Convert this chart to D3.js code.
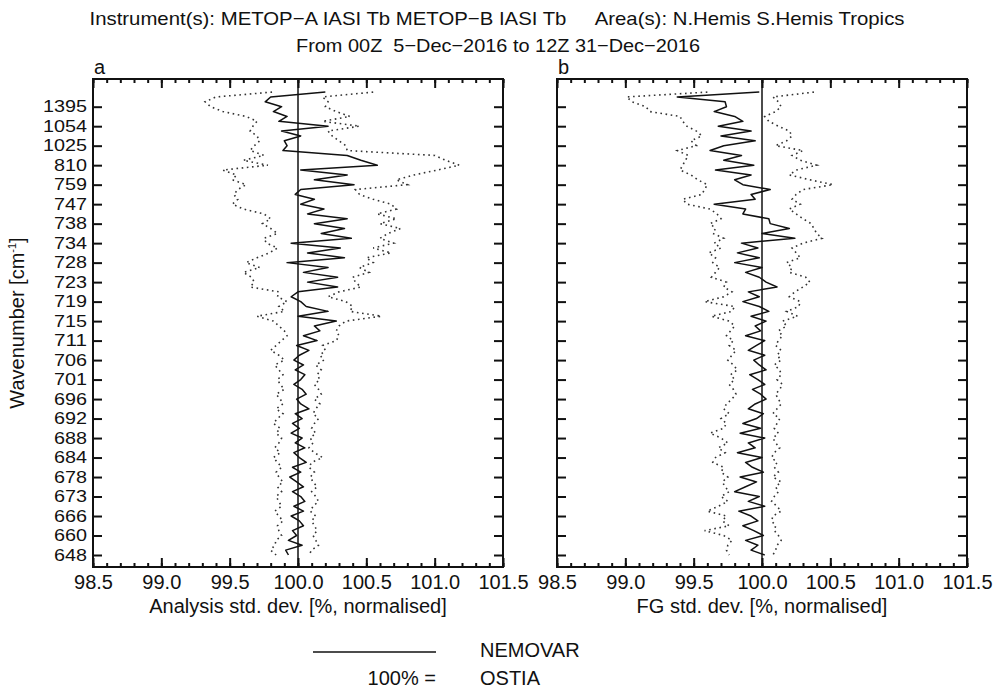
<!DOCTYPE html>
<html>
<head>
<meta charset="utf-8">
<script src="https://cdn.jsdelivr.net/npm/d3@7/dist/d3.min.js"></script>
<style>
  body { margin: 0; background: #fff; }
  text { font-family: "Liberation Sans", Arial, sans-serif; fill: #111; }
</style>
</head>
<body>
<svg id="chart" width="995" height="690"></svg>
<script>
// tick labels (wavenumber of every 4th channel, top to bottom)
const wavenumbers = [1395, 1054, 1025, 810, 759, 747, 738, 734, 728, 723, 719, 715,
  711, 706, 701, 696, 692, 688, 684, 678, 673, 666, 660, 648];

// panel a: analysis std. dev., channels top to bottom
const anaMean = [
  100.20, 99.80, 99.76, 99.88, 99.82, 99.92, 99.86, 100.22, 99.88, 100.02,
  99.90, 99.92, 99.89, 100.36, 100.46, 100.58, 100.02, 100.36, 100.12, 100.41,
  100.02, 99.98, 100.12, 100.02, 100.19, 100.07, 100.36, 100.12, 100.34, 100.17,
  100.39, 99.95, 100.31, 100.07, 100.34, 99.92, 100.22, 100.04, 100.29, 100.07,
  100.29, 100.00, 99.95, 100.02, 100.06, 100.22, 100.00, 100.28, 100.12, 100.16,
  100.04, 100.14, 99.99, 100.08, 100.01, 99.97, 100.04, 99.98, 100.05, 100.02,
  99.97, 100.03, 100.06, 99.99, 100.02, 100.08, 99.98, 100.03, 99.96, 100.01,
  99.95, 100.03, 99.98, 100.05, 99.97, 100.01, 100.06, 99.96, 100.02, 99.94,
  99.99, 100.04, 99.96, 100.02, 100.05, 99.97, 100.04, 99.95, 100.01, 100.04,
  99.96, 99.99, 99.93, 100.03, 99.91, 99.93
];
const anaLow = [
  99.81, 99.40, 99.32, 99.36, 99.45, 99.62, 99.70, 99.67, 99.65, 99.70,
  99.72, 99.68, 99.65, 99.75, 99.60, 99.78, 99.45, 99.55, 99.52, 99.62,
  99.56, 99.53, 99.56, 99.52, 99.60, 99.75, 99.80, 99.74, 99.80, 99.85,
  99.75, 99.77, 99.85, 99.79, 99.70, 99.62, 99.72, 99.60, 99.66, 99.68,
  99.65, 99.86, 99.85, 99.92, 99.86, 99.90, 99.70, 99.82, 99.86, 99.90,
  99.92, 99.88, 99.84, 99.80, 99.86, 99.90, 99.83, 99.86, 99.89, 99.85,
  99.87, 99.90, 99.84, 99.87, 99.89, 99.84, 99.89, 99.85, 99.82, 99.87,
  99.84, 99.88, 99.86, 99.83, 99.87, 99.82, 99.85, 99.88, 99.84, 99.86,
  99.89, 99.85, 99.88, 99.84, 99.86, 99.88, 99.83, 99.86, 99.89, 99.85,
  99.86, 99.88, 99.84, 99.83, 99.80, 99.84
];
const anaHigh = [
  100.55, 100.18, 100.22, 100.20, 100.28, 100.38, 100.18, 100.45, 100.22, 100.25,
  100.30, 100.35, 100.36, 101.00, 101.08, 101.18, 101.02, 100.85, 100.72, 100.80,
  100.42, 100.45, 100.55, 100.68, 100.72, 100.58, 100.72, 100.60, 100.75, 100.66,
  100.60, 100.70, 100.55, 100.68, 100.50, 100.55, 100.45, 100.52, 100.40, 100.42,
  100.46, 100.30, 100.22, 100.35, 100.40, 100.38, 100.61, 100.35, 100.30, 100.28,
  100.30, 100.28, 100.18, 100.20, 100.16, 100.19, 100.13, 100.17, 100.14, 100.16,
  100.12, 100.15, 100.17, 100.12, 100.16, 100.13, 100.11, 100.15, 100.12, 100.10,
  100.13, 100.09, 100.11, 100.08, 100.12, 100.18, 100.10, 100.08, 100.12, 100.09,
  100.11, 100.14, 100.10, 100.13, 100.15, 100.11, 100.09, 100.13, 100.10, 100.12,
  100.14, 100.11, 100.13, 100.15, 100.10, 100.08
];

// panel b: first-guess std. dev.
const fgMean = [
  99.98, 99.38, 99.73, 99.74, 99.65, 99.80, 99.86, 99.68, 99.92, 99.70,
  99.95, 99.72, 99.62, 99.85, 99.72, 99.94, 99.66, 99.92, 99.80, 99.86,
  100.06, 99.92, 99.95, 99.65, 99.88, 99.86, 100.05, 100.06, 100.20, 100.00,
  100.24, 99.85, 99.97, 99.82, 99.98, 99.80, 100.00, 99.88, 99.98, 100.03,
  100.11, 99.90, 99.98, 99.86, 99.98, 100.05, 99.92, 100.03, 99.95, 99.99,
  99.88, 100.02, 99.96, 99.90, 100.02, 99.94, 99.98, 100.03, 99.91, 99.97,
  100.02, 99.93, 99.99, 100.03, 99.95, 99.90, 100.01, 99.96, 99.86, 99.99,
  99.84, 100.02, 99.90, 99.95, 99.82, 100.00, 99.88, 99.93, 100.01, 99.84,
  99.96, 99.88, 99.80, 99.98, 99.90, 100.02, 99.83, 99.92, 99.97, 99.86,
  99.94, 100.01, 99.88, 99.97, 99.92, 100.02
];
const fgLow = [
  99.60, 99.01, 99.05, 99.15, 99.18, 99.40, 99.42, 99.45, 99.52, 99.56,
  99.48, 99.52, 99.38, 99.46, 99.44, 99.42, 99.40, 99.48, 99.53, 99.60,
  99.58, 99.56, 99.42, 99.45, 99.62, 99.67, 99.70, 99.62, 99.66, 99.64,
  99.72, 99.65, 99.70, 99.61, 99.66, 99.64, 99.69, 99.66, 99.63, 99.74,
  99.72, 99.78, 99.72, 99.58, 99.80, 99.78, 99.63, 99.76, 99.80, 99.77,
  99.74, 99.79, 99.76, 99.81, 99.78, 99.75, 99.79, 99.82, 99.77, 99.80,
  99.76, 99.79, 99.81, 99.78, 99.74, 99.72, 99.76, 99.70, 99.74, 99.72,
  99.62, 99.70, 99.75, 99.68, 99.73, 99.66, 99.64, 99.72, 99.70, 99.75,
  99.71, 99.73, 99.76, 99.70, 99.75, 99.68, 99.60, 99.74, 99.71, 99.76,
  99.58, 99.72, 99.78, 99.75, 99.74, 99.76
];
const fgHigh = [
  100.38, 100.08, 100.12, 100.14, 100.10, 100.02, 100.05, 100.12, 100.20, 100.22,
  100.18, 100.10, 100.30, 100.22, 100.28, 100.40, 100.25, 100.20, 100.35, 100.52,
  100.30, 100.25, 100.22, 100.28, 100.20, 100.25, 100.30, 100.36, 100.38, 100.40,
  100.44, 100.30, 100.22, 100.25, 100.28, 100.18, 100.22, 100.20, 100.32, 100.35,
  100.30, 100.24, 100.20, 100.28, 100.27, 100.18, 100.26, 100.15, 100.18, 100.12,
  100.15, 100.12, 100.10, 100.14, 100.11, 100.14, 100.09, 100.13, 100.14, 100.11,
  100.15, 100.13, 100.10, 100.12, 100.14, 100.11, 100.08, 100.13, 100.11, 100.09,
  100.12, 100.08, 100.10, 100.13, 100.09, 100.07, 100.11, 100.09, 100.12, 100.08,
  100.14, 100.10, 100.12, 100.09, 100.07, 100.11, 100.14, 100.08, 100.07, 100.10,
  100.09, 100.12, 100.14, 100.11, 100.10, 100.08
];

const xTicks = [98.5, 99.0, 99.5, 100.0, 100.5, 101.0, 101.5];

const svg = d3.select("#chart");
const frameTop = 79, frameBottom = 567;
const fontSize = 20;

// channel index -> pixel (channel 3 is the 1395 tick, channel 95 the 648 tick)
const y = d3.scaleLinear().domain([3, 95]).range([106.7, 555]);
const tickChannels = wavenumbers.map((_, i) => 3 + 4 * i);

svg.append("text")
  .attr("x", 497).attr("y", 25).attr("text-anchor", "middle")
  .attr("font-size", 18.5)
  .attr("textLength", 815).attr("lengthAdjust", "spacingAndGlyphs")
  .text("Instrument(s): METOP\u2212A IASI Tb METOP\u2212B IASI Tb \u00a0\u00a0\u00a0\u00a0Area(s): N.Hemis S.Hemis Tropics");
svg.append("text")
  .attr("x", 498).attr("y", 52).attr("text-anchor", "middle")
  .attr("font-size", 18.5)
  .attr("textLength", 404).attr("lengthAdjust", "spacingAndGlyphs")
  .text("From 00Z \u00a05\u2212Dec\u22122016 to 12Z 31\u2212Dec\u22122016");

function drawPanel(x0, x1, mean, low, high, label, xTitle, showY) {
  const x = d3.scaleLinear().domain([98.5, 101.5]).range([x0, x1]);
  const g = svg.append("g");

  const line = (arr) => d3.line()
    .x((d) => x(d))
    .y((d, i) => y(i))(arr);

  // 100 % reference line
  g.append("line")
    .attr("x1", x(100)).attr("x2", x(100))
    .attr("y1", frameTop).attr("y2", frameBottom)
    .attr("stroke", "#111").attr("stroke-width", 1.5);

  [low, high].forEach((arr) => {
    g.append("path").attr("d", line(arr))
      .attr("fill", "none").attr("stroke", "#333")
      .attr("stroke-width", 1.6).attr("stroke-dasharray", "1.6,3.6");
  });
  g.append("path").attr("d", line(mean))
    .attr("fill", "none").attr("stroke", "#111")
    .attr("stroke-width", 1.5).attr("stroke-linejoin", "round");

  // axes: ticks point inwards
  const axes = [
    { ax: d3.axisBottom(x).tickValues(xTicks).tickSize(-9).tickPadding(8)
        .tickFormat(d3.format(".1f")), at: [0, frameBottom] },
    { ax: d3.axisBottom(x).ticks(30).tickSize(-4).tickFormat(""), at: [0, frameBottom] },
    { ax: d3.axisTop(x).tickValues(xTicks).tickSize(-9).tickFormat(""), at: [0, frameTop] },
    { ax: d3.axisTop(x).ticks(30).tickSize(-4).tickFormat(""), at: [0, frameTop] },
    { ax: d3.axisLeft(y).tickValues(tickChannels).tickSize(-9).tickPadding(6)
        .tickFormat((d, i) => (showY ? wavenumbers[i] : "")), at: [x0, 0] },
    { ax: d3.axisRight(y).tickValues(tickChannels).tickSize(-9).tickFormat(""), at: [x1, 0] }
  ];
  axes.forEach(({ ax, at }, k) => {
    const a = g.append("g").attr("transform", `translate(${at[0]},${at[1]})`).call(ax);
    a.select(".domain").remove();
    a.selectAll("line").attr("stroke", "#111").attr("stroke-width", 2);
    a.selectAll("text").attr("font-size", fontSize).attr("font-family", null)
      .attr("fill", "#111");
    if (k === 4) {
      // stacked wavenumber labels: smaller glyph height, stretched to full width
      a.selectAll("text").attr("font-size", 16.5)
        .attr("textLength", (d, i) => String(wavenumbers[i]).length * 11)
        .attr("lengthAdjust", "spacingAndGlyphs");
    }
  });

  g.append("rect")
    .attr("x", x0).attr("y", frameTop)
    .attr("width", x1 - x0).attr("height", frameBottom - frameTop)
    .attr("fill", "none").attr("stroke", "#111").attr("stroke-width", 2);

  g.append("text").attr("x", x0 + 1).attr("y", 74)
    .attr("font-size", fontSize).text(label);
  g.append("text").attr("x", (x0 + x1) / 2).attr("y", 613)
    .attr("text-anchor", "middle").attr("font-size", fontSize).text(xTitle);
}

drawPanel(93, 503, anaMean, anaLow, anaHigh, "a", "Analysis std. dev. [%, normalised]", true);
drawPanel(557, 967, fgMean, fgLow, fgHigh, "b", "FG std. dev. [%, normalised]", false);

// y axis title
const yt = svg.append("text")
  .attr("transform", "translate(24,323) rotate(-90)")
  .attr("text-anchor", "middle").attr("font-size", fontSize);
yt.append("tspan").text("Wavenumber [cm");
yt.append("tspan").attr("dy", -8).attr("font-size", 11).text("-1");
yt.append("tspan").attr("dy", 8).text("]");

// legend
svg.append("line").attr("x1", 313).attr("x2", 436).attr("y1", 652).attr("y2", 652)
  .attr("stroke", "#111").attr("stroke-width", 1.5);
svg.append("text").attr("x", 480).attr("y", 657).attr("font-size", fontSize).text("NEMOVAR");
svg.append("text").attr("x", 436).attr("y", 685).attr("text-anchor", "end")
  .attr("font-size", fontSize).text("100% =");
svg.append("text").attr("x", 480).attr("y", 685).attr("font-size", fontSize).text("OSTIA");
</script>
</body>
</html>
